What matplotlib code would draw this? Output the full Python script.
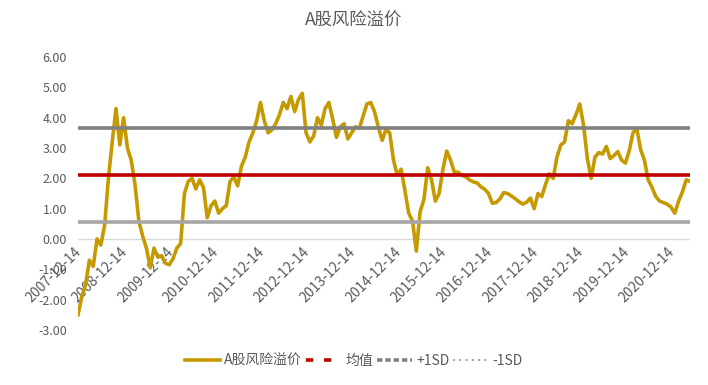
import numpy as np
import pandas as pd
import matplotlib
matplotlib.use("Agg")
import matplotlib.pyplot as plt
from matplotlib.lines import Line2D

plt.rcParams["font.family"] = ["Noto Sans CJK SC", "DejaVu Sans"]

# ---- data (monthly) --------------------------------------------------------
premium = [
    -2.5, -1.9, -1.5, -0.7, -0.9, 0.0, -0.2, 0.45, 2.0, 3.2, 4.3, 3.1,
    4.0, 3.0, 2.6, 1.8, 0.6, 0.1, -0.3, -0.95, -0.3, -0.6, -0.55, -0.8,
    -0.85, -0.65, -0.3, -0.15, 1.5, 1.9, 2.0, 1.65, 1.95, 1.7, 0.7, 1.1,
    1.25, 0.85, 1.0, 1.1, 1.9, 2.05, 1.75, 2.4, 2.7, 3.2, 3.5, 3.9,
    4.5, 3.9, 3.5, 3.6, 3.8, 4.1, 4.5, 4.3, 4.7, 4.2, 4.6, 4.8,
    3.5, 3.2, 3.4, 4.0, 3.75, 4.3, 4.5, 3.95, 3.35, 3.7, 3.8, 3.3,
    3.5, 3.7, 3.65, 4.05, 4.45, 4.5, 4.2, 3.7, 3.25, 3.6, 3.5, 2.6,
    2.1, 2.3, 1.6, 0.85, 0.6, -0.4, 0.9, 1.3, 2.35, 1.95, 1.25, 1.5,
    2.3, 2.9, 2.6, 2.2, 2.2, 2.1, 2.05, 1.95, 1.88, 1.85, 1.72, 1.64,
    1.5, 1.18, 1.2, 1.32, 1.53, 1.5, 1.42, 1.33, 1.23, 1.15, 1.21, 1.35,
    1.0, 1.5, 1.4, 1.8, 2.15, 2.0, 2.7, 3.1, 3.2, 3.9, 3.8, 4.1,
    4.45, 3.75, 2.65, 2.0, 2.7, 2.85, 2.8, 3.05, 2.65, 2.75, 2.88, 2.6,
    2.5, 2.9, 3.5, 3.65, 2.95, 2.6, 1.95, 1.7, 1.4, 1.25, 1.2, 1.15,
    1.05, 0.85, 1.25, 1.55, 1.95, 1.9,
]
start_date = "2007-12-14"
mean_val = 2.10
plus_sd = 3.66
minus_sd = 0.56
tick_labels = [f"{y}-12-14" for y in range(2007, 2021)]

dates = [pd.Timestamp(start_date) + pd.DateOffset(months=i) for i in range(len(premium))]
date_str = [d.strftime("%Y-%m-%d") for d in dates]
x = np.arange(len(premium))

# ---- figure ----------------------------------------------------------------
TXT = "#595959"
fig = plt.figure(figsize=(7.08, 3.85), dpi=100)
ax = fig.add_axes([78 / 708, 1 - 330 / 385, (690 - 78) / 708, (330 - 57) / 385])

ax.axhline(0, color="#D9D9D9", lw=1.0, zorder=1)
ax.plot(x, premium, color="#C49A00", lw=2.6, zorder=3, solid_joinstyle="round")
ax.axhline(mean_val, color="#C00000", lw=2.6, zorder=4)
ax.axhline(plus_sd, color="#808080", lw=2.6, zorder=4)
ax.axhline(minus_sd, color="#A6A6A6", lw=2.6, zorder=4)

ax.set_xlim(0, len(premium) - 1)
ax.set_ylim(-3, 6)
ax.set_yticks(np.arange(-3, 7, 1))
ax.set_yticklabels([f"{v:.2f}" for v in np.arange(-3, 7, 1)])
ax.tick_params(axis="y", length=0, labelsize=9, labelcolor=TXT, pad=8)
ax.set_xticks([])
for s in ax.spines.values():
    s.set_visible(False)

# category labels hang from the zero line
for lbl in tick_labels:
    i = date_str.index(lbl)
    ax.annotate(lbl, (i, 0), xytext=(1, -8), textcoords="offset points",
                rotation=45, rotation_mode="anchor", ha="right", va="center",
                fontsize=10, color=TXT, zorder=2)

fig.text(0.5, 0.945, "A股风险溢价", ha="center", va="center", fontsize=12.5, color=TXT)

handles = [
    Line2D([], [], color="#C49A00", lw=2.6),
    Line2D([], [], color="#C00000", lw=2.6, ls=(0, (2, 3))),
    Line2D([], [], color="#808080", lw=2.6, ls=(0, (1.5, 0.8))),
    Line2D([], [], color="#A6A6A6", lw=1.5, ls=(0, (1, 2))),
]
fig.legend(handles, ["A股风险溢价", "均值", "+1SD", "-1SD"], loc="center",
           bbox_to_anchor=(0.5, 1 - 361 / 385), ncol=4, frameon=False,
           fontsize=10, labelcolor=TXT, handlelength=2.5, handletextpad=0.3,
           columnspacing=0.3)

fig.savefig("out.png", dpi=100)
